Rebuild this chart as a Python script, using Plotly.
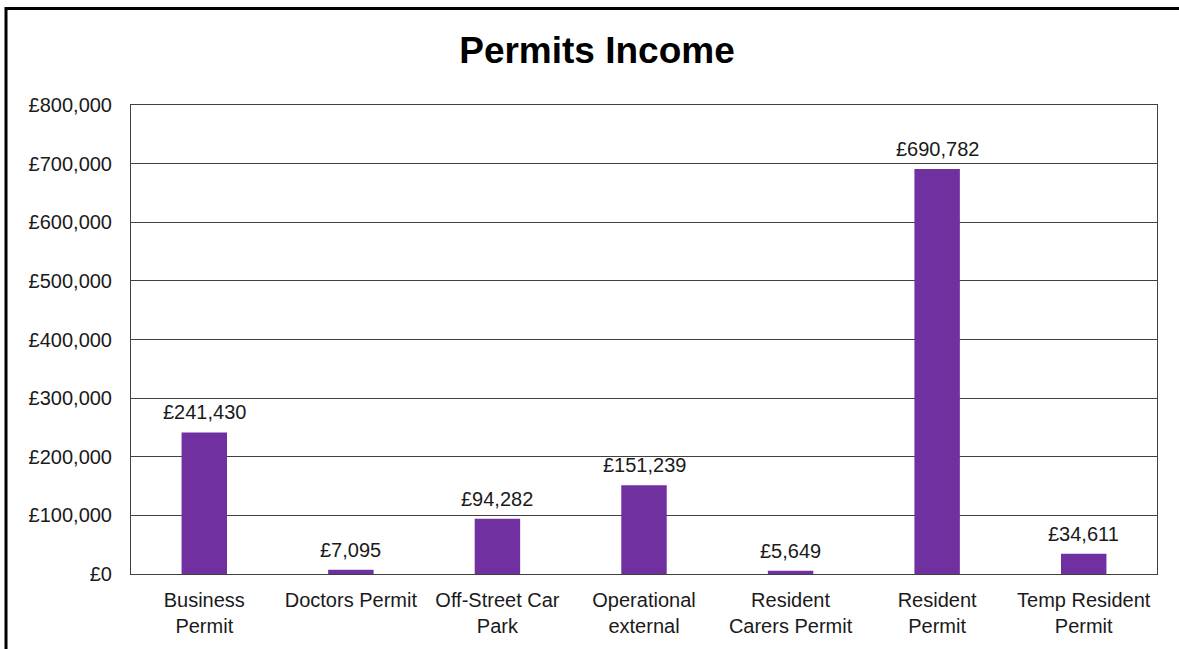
import plotly.graph_objects as go

categories = [
    "Business<br>Permit",
    "Doctors Permit",
    "Off-Street Car<br>Park",
    "Operational<br>external",
    "Resident<br>Carers Permit",
    "Resident<br>Permit",
    "Temp Resident<br>Permit",
]
income = [241430, 7095, 94282, 151239, 5649, 690782, 34611]
y_tick_values = [0, 100000, 200000, 300000, 400000, 500000, 600000, 700000, 800000]
y_tick_labels = [f"£{v:,}" for v in y_tick_values]

W, H = 1179, 649
L, R, T, B = 131, 22, 105, 73
FONT = "Liberation Sans, Arial, sans-serif"
BAR = "#7030A0"
TXT = "#1a1a1a"
SIZE = 20


def px_x(px):
    return (px - L) / (W - L - R)


def px_y(py):
    return (H - B - py) / (H - T - B)


fig = go.Figure(
    go.Bar(
        x=categories,
        y=income,
        marker=dict(color=BAR, line=dict(width=0)),
        width=0.31,
        hoverinfo="x+y",
    )
)

for cat, val in zip(categories, income):
    fig.add_annotation(
        x=cat, y=val, xref="x", yref="y",
        text=f"£{val:,}", showarrow=False,
        yanchor="bottom", yshift=7,
        font=dict(family=FONT, size=SIZE, color=TXT),
    )

# outer chart frame
fig.add_shape(
    type="rect", xref="paper", yref="paper",
    x0=px_x(6), x1=px_x(1200), y0=px_y(8), y1=px_y(670),
    line=dict(color="#000000", width=3), layer="above",
)

fig.update_layout(
    width=W, height=H,
    margin=dict(l=L, r=R, t=T, b=B),
    paper_bgcolor="white", plot_bgcolor="white",
    showlegend=False,
    font=dict(family=FONT, size=SIZE, color=TXT),
    title=dict(
        text="<b>Permits Income</b>",
        x=px_x(597), xref="paper", xanchor="center",
        y=1 - 50 / H, yref="container", yanchor="middle",
        font=dict(family=FONT, size=37, color="#000000"),
    ),
)

fig.update_xaxes(
    showline=True, linecolor="#404040", linewidth=1, mirror=True,
    showgrid=False, ticks="", tickfont=dict(size=SIZE, color=TXT),
    ticklabelstandoff=8,
)
fig.update_yaxes(
    range=[0, 800000], tickvals=y_tick_values, ticktext=y_tick_labels,
    showline=True, linecolor="#404040", linewidth=1, mirror=True,
    showgrid=True, gridcolor="#404040", gridwidth=1,
    zeroline=False, ticks="", ticklabelstandoff=14,
    tickfont=dict(size=SIZE, color=TXT),
)

fig.write_html("out.html")
